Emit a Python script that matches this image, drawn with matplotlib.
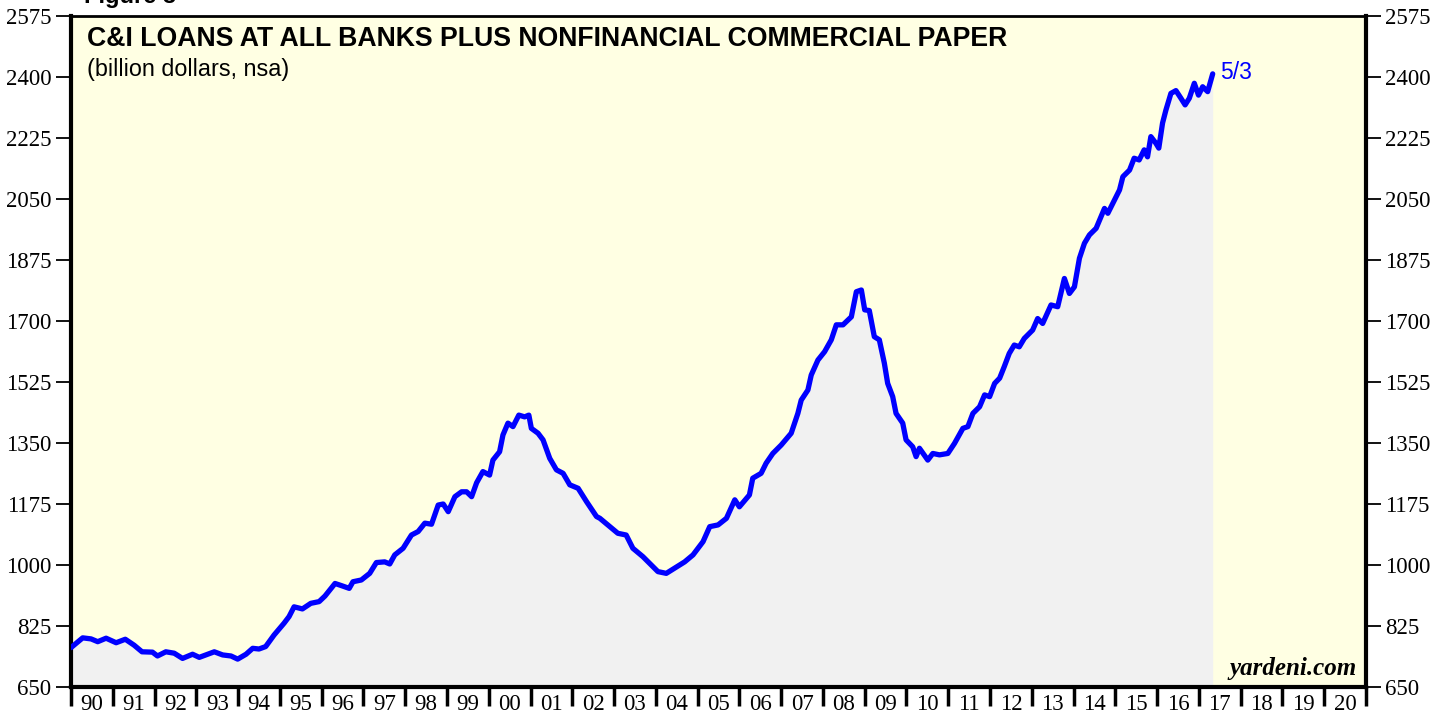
import numpy as np
import matplotlib
matplotlib.use("Agg")
import matplotlib.pyplot as plt

# C&I loans plus nonfinancial commercial paper (billion dollars, nsa)
dates = [1990.0, 1990.28, 1990.48, 1990.64, 1990.84, 1991.08, 1991.3, 1991.51, 1991.7, 1991.95,
         1992.07, 1992.27, 1992.47, 1992.67, 1992.91, 1993.07, 1993.23, 1993.43, 1993.63, 1993.83,
         1993.99, 1994.19, 1994.35, 1994.5, 1994.66, 1994.86, 1995.1, 1995.22, 1995.34, 1995.54,
         1995.74, 1995.94, 1996.08, 1996.32, 1996.47, 1996.66, 1996.75, 1996.95, 1997.15, 1997.31,
         1997.51, 1997.63, 1997.75, 1997.95, 1998.15, 1998.31, 1998.47, 1998.63, 1998.79, 1998.91,
         1999.03, 1999.19, 1999.35, 1999.47, 1999.59, 1999.71, 1999.86, 2000.02, 2000.1, 2000.26,
         2000.34, 2000.46, 2000.58, 2000.72, 2000.86, 2000.96, 2001.02, 2001.18, 2001.3, 2001.46,
         2001.62, 2001.78, 2001.94, 2002.14, 2002.34, 2002.58, 2002.66, 2002.9, 2003.09, 2003.29,
         2003.45, 2003.69, 2003.89, 2004.05, 2004.25, 2004.45, 2004.69, 2004.89, 2005.13, 2005.29,
         2005.49, 2005.69, 2005.89, 2006.0, 2006.24, 2006.32, 2006.52, 2006.64, 2006.8, 2007.0,
         2007.24, 2007.4, 2007.48, 2007.64, 2007.72, 2007.88, 2008.04, 2008.2, 2008.32, 2008.48,
         2008.68, 2008.8, 2008.92, 2009.0, 2009.11, 2009.23, 2009.35, 2009.47, 2009.55, 2009.67,
         2009.75, 2009.91, 2009.99, 2010.15, 2010.23, 2010.31, 2010.51, 2010.63, 2010.79, 2010.99,
         2011.15, 2011.35, 2011.47, 2011.59, 2011.75, 2011.87, 2011.99, 2012.11, 2012.23, 2012.34,
         2012.46, 2012.58, 2012.7, 2012.82, 2013.02, 2013.14, 2013.26, 2013.46, 2013.62, 2013.78,
         2013.9, 2014.02, 2014.14, 2014.26, 2014.38, 2014.54, 2014.66, 2014.74, 2014.82, 2014.98,
         2015.1, 2015.18, 2015.34, 2015.45, 2015.57, 2015.69, 2015.77, 2015.85, 2015.97, 2016.04,
         2016.13, 2016.21, 2016.33, 2016.45, 2016.57, 2016.67, 2016.77, 2016.89, 2016.99, 2017.09,
         2017.21, 2017.33]
loans = [763, 791, 788, 780, 790, 777, 787, 770, 751, 750,
         739, 751, 747, 732, 744, 735, 742, 751, 742, 739,
         730, 744, 761, 759, 766, 799, 833, 852, 880, 874,
         890, 895, 911, 947, 941, 933, 952, 957, 976, 1007,
         1009, 1003, 1029, 1048, 1086, 1096, 1120, 1117, 1172, 1175,
         1153, 1196, 1210, 1210, 1196, 1236, 1268, 1258, 1301, 1325,
         1373, 1407, 1397, 1430, 1425, 1430, 1392, 1378, 1359, 1306,
         1273, 1263, 1230, 1220, 1182, 1139, 1134, 1110, 1091, 1086,
         1048, 1024, 1000, 981, 976, 991, 1009, 1029, 1067, 1110,
         1115, 1134, 1187, 1167, 1201, 1249, 1263, 1292, 1320, 1344,
         1378, 1435, 1473, 1502, 1545, 1588, 1612, 1646, 1689, 1689,
         1712, 1784, 1789, 1732, 1730, 1655, 1646, 1579, 1521, 1483,
         1435, 1407, 1359, 1339, 1311, 1335, 1301, 1320, 1316, 1320,
         1349, 1392, 1397, 1435, 1454, 1488, 1483, 1521, 1536, 1569,
         1607, 1631, 1626, 1650, 1674, 1707, 1693, 1746, 1741, 1822,
         1779, 1798, 1880, 1923, 1947, 1966, 2000, 2023, 2009, 2047,
         2076, 2114, 2133, 2167, 2162, 2191, 2171, 2229, 2210, 2196,
         2268, 2305, 2353, 2361, 2339, 2320, 2339, 2382, 2348, 2372,
         2358, 2409]

years = list(range(1990, 2022))
year_labels = ["%02d" % (y % 100) for y in range(1990, 2021)]
yticks = list(range(650, 2576, 175))
last_label = "5/3"

serif = ["Liberation Serif", "DejaVu Serif"]
sans = ["Liberation Sans", "DejaVu Sans"]

fig = plt.figure(figsize=(14.48, 7.19), dpi=100)
ax = fig.add_axes([71 / 1448, 1 - 687 / 719, (1366 - 71) / 1448, (687 - 16) / 719])
ax.set_facecolor("#FFFFE3")

ax.fill_between(dates, 650, loans, color="#F1F1F1", lw=0, zorder=1)
ax.plot(dates, loans, color="#0000FF", lw=3.8, solid_joinstyle="round",
        solid_capstyle="round", zorder=3)

ax.set_xlim(1990, 2021)
ax.set_ylim(650, 2575)

ax.set_yticks(yticks)
ax.tick_params(axis="y", which="both", direction="out", length=11, width=1.3,
               left=True, right=True, labelleft=True, labelright=True, pad=3)
for lab in ax.get_yticklabels():
    lab.set_family(serif)
    lab.set_fontsize(16.5)

ax.set_xticks(years)
ax.set_xticklabels([])
ax.set_xticks([y + 0.5 for y in range(1990, 2021)], minor=True)
ax.set_xticklabels(year_labels, minor=True, family=serif, fontsize=16.5)
ax.tick_params(axis="x", which="major", direction="out", length=14, width=2.5)
ax.tick_params(axis="x", which="minor", length=0, pad=5)

for side in ["left", "right", "bottom"]:
    ax.spines[side].set_linewidth(3)
ax.spines["top"].set_linewidth(2)

ax.text(0.012, 0.985, "C&I LOANS AT ALL BANKS PLUS NONFINANCIAL COMMERCIAL PAPER",
        transform=ax.transAxes, family=sans, fontweight="bold", fontsize=19.2,
        va="top", ha="left")
ax.text(0.012, 0.937, "(billion dollars, nsa)", transform=ax.transAxes,
        family=sans, fontsize=16.8, va="top", ha="left")
ax.annotate(last_label, (dates[-1], loans[-1]), xytext=(5, 1), textcoords="offset points",
            color="#0000FF", family=sans, fontsize=16.5, va="center", ha="left")
ax.text(0.993, 0.01, "yardeni.com", transform=ax.transAxes, family=serif,
        fontweight="bold", fontstyle="italic", fontsize=18, ha="right", va="bottom")

fig.text(0.058, 0.996, "Figure 3", family=sans, fontweight="bold", fontsize=17,
         ha="left", va="baseline")

fig.savefig("out.png", dpi=100)
